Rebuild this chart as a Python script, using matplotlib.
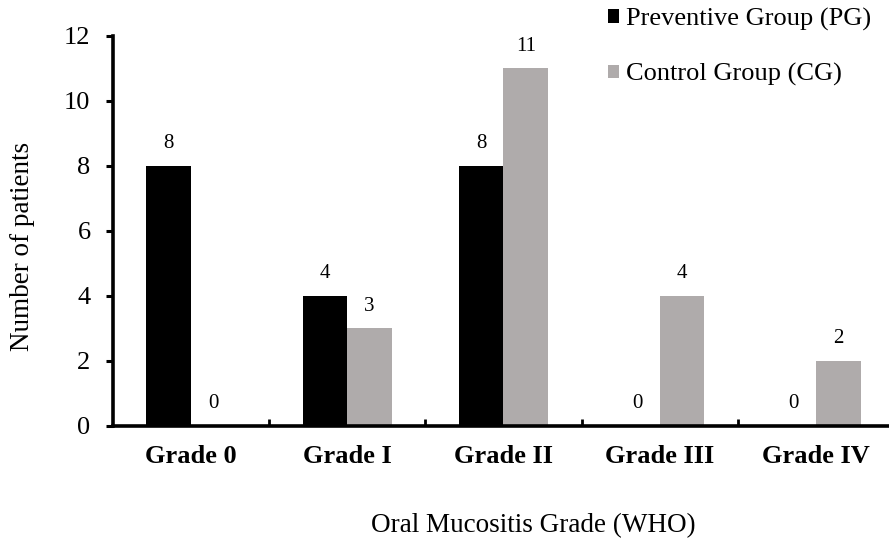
import numpy as np
import matplotlib
matplotlib.use('Agg')
import matplotlib.pyplot as plt

plt.rcParams['font.family'] = ['Liberation Serif', 'DejaVu Serif']

grades = ['Grade 0', 'Grade I', 'Grade II', 'Grade III', 'Grade IV']
pg_counts = [8, 4, 8, 0, 0]
cg_counts = [0, 3, 11, 4, 2]
pg_label = 'Preventive Group (PG)'
cg_label = 'Control Group (CG)'

pg_color = '#000000'
cg_color = '#AFABAB'

fig = plt.figure(figsize=[8.89, 5.41], dpi=100)
ax = fig.add_axes([0.1268, 0.2126, 0.879, 0.721])

x = np.arange(len(grades))
w = 0.285
b1 = ax.bar(x - w / 2, pg_counts, w, color=pg_color, label=pg_label)
b2 = ax.bar(x + w / 2, cg_counts, w, color=cg_color, label=cg_label)

# value labels above each bar
for bars in (b1, b2):
    for r in bars:
        h = r.get_height()
        ax.annotate(str(int(h)), (r.get_x() + r.get_width() / 2, h),
                    xytext=(0, 9), textcoords='offset points',
                    ha='center', va='bottom', fontsize=15)

ax.set_xlim(-0.5, len(grades) - 0.5)
ax.set_ylim(0, 12)
ax.set_yticks(range(0, 13, 2))
ax.tick_params(axis='y', labelsize=19, length=5, width=2.2, direction='out', pad=11)

# category names as minor ticks, boundaries as major ticks
ax.set_xticks(np.arange(0.5, len(grades) - 0.5, 1))
ax.set_xticklabels([])
ax.tick_params(axis='x', which='major', direction='in', length=5, width=2)
ax.set_xticks(x, minor=True)
ax.set_xticklabels(grades, minor=True, fontsize=19, fontweight='bold')
ax.tick_params(axis='x', which='minor', length=0, pad=14)

for s in ['top', 'right']:
    ax.spines[s].set_visible(False)
for s in ['left', 'bottom']:
    ax.spines[s].set_linewidth(2.6)

ax.set_ylabel('Number of patients', fontsize=19.5, va='center')
ax.yaxis.set_label_coords(-0.116, 0.46)
ax.set_xlabel('Oral Mucositis Grade (WHO)', fontsize=19.5, va='center')
ax.xaxis.set_label_coords(0.538, -0.256)

fig.legend(loc='upper left', bbox_to_anchor=(0.684, 0.986), frameon=False,
           fontsize=19, handlelength=0.42, handleheight=0.42, handletextpad=0.25,
           labelspacing=1.24, borderpad=0, borderaxespad=0)

plt.savefig('out.png', dpi=100)
